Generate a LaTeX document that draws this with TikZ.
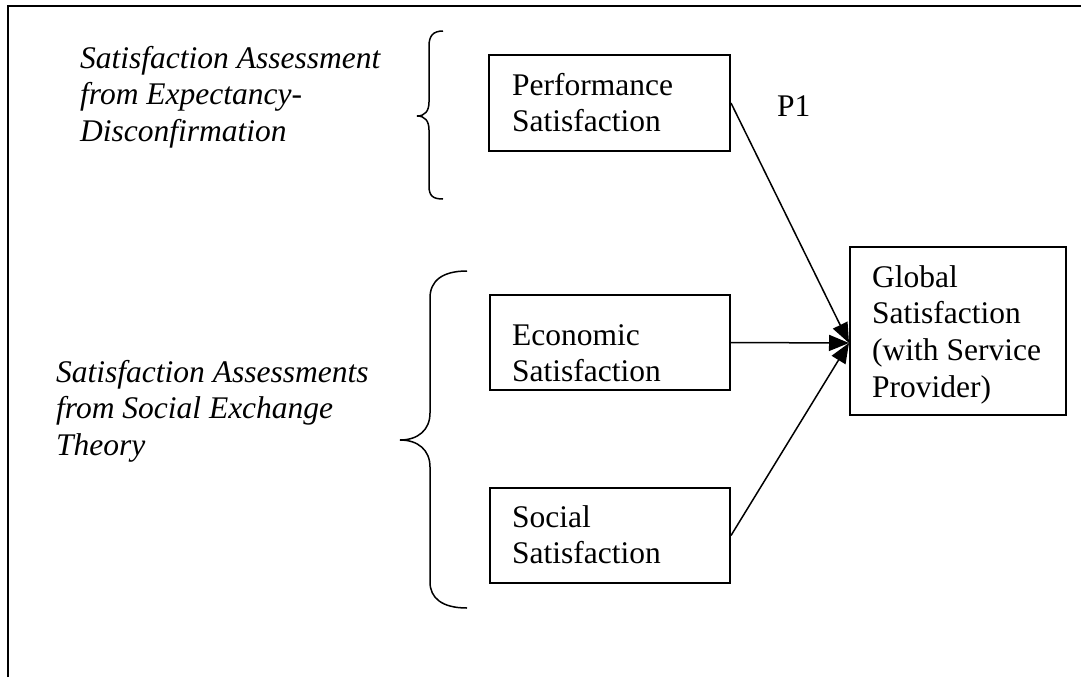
\documentclass[tikz,border=0pt]{standalone}
\usepackage{fontspec}
\setmainfont{Liberation Serif}
\usetikzlibrary{arrows.meta,calc}
% left-aligned block of lines whose reference point is the first baseline
\newcommand{\mystack}[1]{\begin{tabular}[t]{@{}l@{}}#1\end{tabular}}
\begin{document}
\begin{tikzpicture}[x=1pt,y=-1pt,
  txt/.style={font=\fontsize{31.5}{36.7}\selectfont,anchor=base west,inner sep=0pt},
  ital/.style={font=\fontsize{31.5}{36.7}\selectfont\itshape,anchor=base west,inner sep=0pt},
  box/.style={draw,line width=2pt,inner sep=0pt},
  link/.style={line width=1.5pt,-{Triangle[length=20pt,width=16pt]}},
  brace/.style={line width=1.5pt}]
\useasboundingbox (0,0) rectangle (1081,677);
% outer frame, open at the bottom
\draw[line width=2pt] (7.5,677) -- (7.5,6) -- (1081,6);

% concept boxes
\node[box,minimum width=241pt,minimum height=96pt] (perf) at (609.5,103) {};
\node[box,minimum width=240pt,minimum height=95pt] (econ) at (610,342.5) {};
\node[box,minimum width=240pt,minimum height=95pt] (soc)  at (610,535.5) {};
\node[box,minimum width=216pt,minimum height=168pt] (glob) at (958,331) {};

% box texts
\node[txt] (perf-t) at (512,95)  {\mystack{Performance\\Satisfaction}};
\node[txt] (econ-t) at (512,345) {\mystack{Economic\\Satisfaction}};
\node[txt] (soc-t)  at (512,527) {\mystack{Social\\Satisfaction}};
\node[txt] (glob-t) at (872,287) {\mystack{Global\\Satisfaction\\(with Service\\Provider)}};

% group labels
\node[ital] (expect) at (80,68)  {\mystack{Satisfaction Assessment\\from Expectancy-\\Disconfirmation}};
\node[ital] (social) at (56,382) {\mystack{Satisfaction Assessments\\from Social Exchange\\Theory}};
\node[txt] (p1) at (777,116) {P1};

% braces
\draw[brace] (443,31) .. controls (433,31) and (429,36) .. (429,46) -- (429,102)
  .. controls (429,111) and (425,116) .. (417,116)
  .. controls (425,116) and (429,121) .. (429,130) -- (429,186)
  .. controls (429,196) and (433,199) .. (443,199);
\draw[brace] (467,271) .. controls (442,271) and (430,281) .. (430,298) -- (430,413)
  .. controls (430,430) and (418,440) .. (400,440)
  .. controls (418,440) and (430,450) .. (430,467) -- (430,582)
  .. controls (430,598) and (442,608) .. (467,608);

% connectors
\coordinate (hub) at ($(glob.west)+(0,12)$);
\draw[link] (perf.east) -- (hub);
\draw[link] (econ.east) -- (hub);
\draw[link] (soc.east) -- (hub);
\end{tikzpicture}
\end{document}
